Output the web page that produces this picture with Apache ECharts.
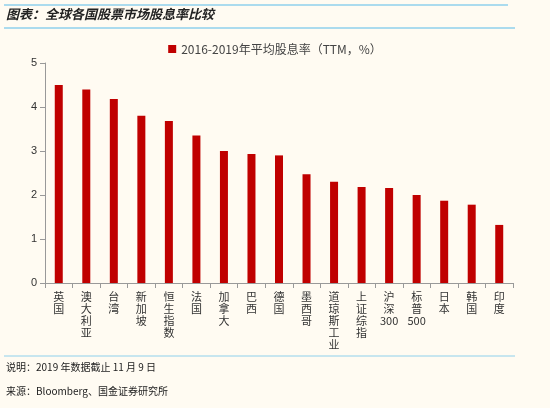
<!DOCTYPE html><html><head><meta charset="utf-8"><script src="https://cdn.jsdelivr.net/npm/echarts@6/dist/echarts.min.js"></script>
<style>body{margin:0;background:#fffbf2}#c{width:550px;height:408px}</style></head><body><div id="c"></div><script>
const categories=['英国','澳大利亚','台湾','新加坡','恒生指数','法国','加拿大','巴西','德国','墨西哥','道琼斯工业','上证综指','沪深300','标普500','日本','韩国','印度'];
const values=[4.5,4.4,4.18,3.8,3.68,3.35,3.0,2.93,2.9,2.47,2.3,2.18,2.16,2.0,1.87,1.78,1.32];
const seriesName='2016-2019年平均股息率（TTM，%）';
const ch=echarts.init(document.getElementById('c'));
const F='"Noto Sans CJK SC",sans-serif';
ch.setOption({backgroundColor:'#fffbf2',animation:false,
graphic:[
{type:'line',shape:{x1:4,y1:5,x2:508,y2:5},style:{stroke:'#8fd0ec',lineWidth:1.5}},
{type:'line',shape:{x1:4,y1:28,x2:515,y2:28},style:{stroke:'#8fd0ec',lineWidth:1.5}},
{type:'line',shape:{x1:4,y1:356,x2:515,y2:356},style:{stroke:'#8fd0ec',lineWidth:1}},
{type:'text',left:6,top:8,style:{text:'图表：全球各国股票市场股息率比较',font:'italic bold 13px '+F,fill:'#222'}},
{type:'text',left:6,top:362,style:{text:'说明：2019 年数据截止 11 月 9 日',font:'10px '+F,fill:'#222'}},
{type:'text',left:6,top:386,style:{text:'来源：Bloomberg、国金证券研究所',font:'10px '+F,fill:'#222'}}
],
legend:{top:38,left:'center',itemWidth:8,itemHeight:8,icon:'rect',textStyle:{fontSize:12,color:'#444',fontFamily:F}},
grid:{left:45,right:37,top:63,bottom:125},
xAxis:{type:'category',data:categories,axisLine:{lineStyle:{color:'#999'}},axisTick:{show:true,alignWithLabel:false,lineStyle:{color:'#999'}},
axisLabel:{interval:0,color:'#333',fontSize:11,fontFamily:F,lineHeight:12,verticalAlign:'top',formatter:v=>v.replace(/(\d+)/,'$1').split(/(?=[^\d])|(?<=[^\d])(?=\d)/).join('\n')}},
yAxis:{type:'value',min:0,max:5,interval:1,axisLine:{show:true,lineStyle:{color:'#999'}},axisTick:{show:true,inside:false,lineStyle:{color:'#999'}},splitLine:{show:false},axisLabel:{color:'#333',fontSize:11}},
series:[{name:seriesName,type:'bar',data:values,barWidth:8,itemStyle:{color:'#c00000'}}]});
</script></body></html>
